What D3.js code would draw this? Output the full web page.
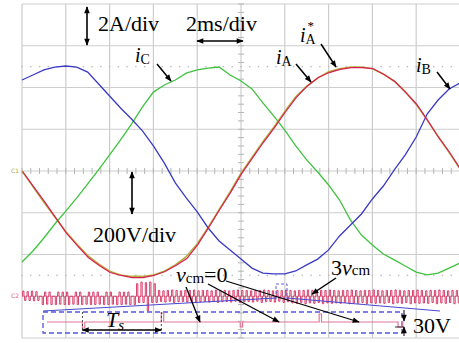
<!DOCTYPE html>
<html><head><meta charset="utf-8">
<script src="https://cdn.jsdelivr.net/npm/d3@7/dist/d3.min.js"></script>
<style>html,body{margin:0;padding:0;background:#fff;overflow:hidden}svg{display:block}</style>
</head><body><svg id="c" width="459" height="343"></svg>
<script>
// ---- data (time in ms, currents in A) ----
const timeMs = [0,0.5,1,1.5,2,2.5,3,3.5,4,4.5,5,5.5,6,6.5,7,7.5,8,8.5,9,9.5,10,10.5,11,11.5,12,12.5,13,13.5,14,14.5,15,15.5,16,16.5,17,17.5,18,18.5,19,19.5,20];
const iA    = [0,-0.72,-1.44,-2.2,-2.95,-3.55,-4.12,-4.5,-4.84,-4.98,-5.08,-5.08,-4.98,-4.79,-4.5,-4.17,-3.5,-2.68,-1.82,-1.0,-0.1,0.65,1.4,2.1,2.85,3.55,4.1,4.5,4.74,4.89,4.98,4.98,4.93,4.65,4.31,3.78,3.21,2.44,1.63,0.91,0.1];
const iAref = [0,-0.75,-1.5,-2.2,-2.9,-3.5,-4.05,-4.45,-4.8,-4.98,-5.05,-5.05,-4.98,-4.8,-4.5,-4.1,-3.5,-2.7,-1.85,-1.0,-0.1,0.65,1.4,2.1,2.85,3.55,4.05,4.45,4.75,4.9,4.98,4.98,4.9,4.65,4.3,3.8,3.2,2.45,1.65,0.9,0.1];
const iB    = [4.36,4.6,4.84,4.98,5.03,4.98,4.74,4.17,3.59,3.02,2.49,1.92,1.2,0.38,-0.57,-1.29,-1.96,-2.73,-3.35,-3.78,-4.22,-4.65,-4.89,-4.93,-4.93,-4.79,-4.5,-4.22,-3.78,-3.11,-2.59,-2.06,-1.34,-0.72,0.05,0.77,1.63,2.73,3.4,3.93,4.22];
const iC    = [-4.36,-3.83,-3.21,-2.54,-1.92,-1.29,-0.62,0.07,0.77,1.49,2.25,3.07,3.78,4.12,4.36,4.69,4.84,4.93,4.98,4.6,4.31,3.93,3.26,2.63,1.96,1.2,0.53,-0.05,-0.67,-1.39,-2.35,-3.07,-3.54,-3.98,-4.26,-4.55,-4.84,-4.98,-4.89,-4.65,-4.41];
// 3*vcm pulse train: one up pulse and one down pulse per 0.2 ms slot (volts)
const cmSlotMs = 0.2;
const cmUp = [25,22,25,22, 0,20,20,0,20,20,20,0,20,20,0,20,20,20,0,20,20,0,20,20,20,0, 60,68,65,68,60,
  28,26,28,30,28,26,28,28,30,26, 28,28,26,30,28,28,26,28,30,28, 28,26,28,28,30,28,26,28,28,30,
  28,26,28,28,30,28,26,28,28,30, 28,26,28,28,30,28,26,28,28,30, 28,26,28,28,30,28,26,28,28,30, 28,26,28,28,30,28,26,28,28];
const cmDn = [20,20,22,20, 40,38,40,40,38,40,40,38,40,40,38,40,40,38,40,40,38,40,40,38,40,40, 30,30,70,30,30,
  25,28,24,30,26,25,28,24,30,26, 25,28,24,30,26,25,28,24,30,26, 25,28,24,30,26,25,28,24,30,26,
  32,34,30,36,32,34,30,36,32,34, 32,34,30,36,32,34,30,36,32,34, 32,34,30,36,32,34,30,36,32,34, 32,34,30,36,32,34,30,36,32];
// zoomed inset (time in units of Ts, volts)
const insetBlipTs = [0.5,1.5,2.5,3.5,4.5];
const insetBlipV  = [-30,45,-25,40,-25];
const gridTimeTicks = [0,2,4,6,8,10,12,14,16,18,20];
const gridCurrentTicks = [-8,-6,-4,-2,0,2,4,6,8];
const peakRef = 5;

// ---- scales ----
const svg = d3.select('#c');
const x = d3.scaleLinear().domain([0,20]).range([22,460]);
const y = d3.scaleLinear().domain([-8,8]).range([338,4]);
const yV = d3.scaleLinear().domain([-800,800]).range([338,4]); // 200V/div
const cmOffset = -600;
const serif = "'Liberation Serif','Times New Roman',serif";

// ---- grid ----
const g = svg.append('g');
g.selectAll('line.v').data(gridTimeTicks).join('line')
  .attr('x1',d=>x(d)).attr('x2',d=>x(d)).attr('y1',y(8)).attr('y2',y(-8))
  .attr('stroke','#cdcdcd').attr('stroke-width',1.2);
g.selectAll('line.h').data(gridCurrentTicks).join('line')
  .attr('x1',x(0)).attr('x2',x(20)).attr('y1',d=>y(d)).attr('y2',d=>y(d))
  .attr('stroke','#cdcdcd').attr('stroke-width',1.2);
const minorT = d3.range(0,20.001,0.4);
const minorA = d3.range(-8,8.001,0.4);
g.selectAll('line.mt').data(minorT).join('line')
  .attr('x1',d=>x(d)).attr('x2',d=>x(d)).attr('y1',y(0)-3).attr('y2',y(0)+3)
  .attr('stroke','#b5b5b5').attr('stroke-width',1);
g.selectAll('line.ma').data(minorA).join('line')
  .attr('x1',x(10)-3).attr('x2',x(10)+3).attr('y1',d=>y(d)).attr('y2',d=>y(d))
  .attr('stroke','#b5b5b5').attr('stroke-width',1);
[peakRef,-peakRef].forEach(lv=>{
  g.selectAll(null).data(minorT).join('rect')
    .attr('x',d=>x(d)-0.7).attr('y',y(lv)-0.7).attr('width',1.4).attr('height',1.4).attr('fill','#bbbbbb');
});

// ---- pwm 3vcm trace ----
const base = yV(cmOffset);
let p = `M${x(0)},${base}`;
cmUp.forEach((u,k)=>{
  const t0 = k*cmSlotMs;
  const xa = x(t0+0.03), xb = xa+1.3, xc = x(t0+0.12), xd = xc+1.3;
  const yu = yV(cmOffset+u), yd = yV(cmOffset-cmDn[k]);
  if(u>0) p += `L${xa},${base}L${xa},${yu}L${xb},${yu}L${xb},${base}`;
  p += `L${xc},${base}L${xc},${yd}L${xd},${yd}L${xd},${base}`;
});
p += `L${x(20)},${base}`;
svg.append('path').attr('d',p).attr('fill','none').attr('stroke','#d42a5c').attr('stroke-width',0.9);

// ---- current traces ----
const line = arr => d3.line().x((d,i)=>x(timeMs[i])).y(d=>y(d))(arr);
svg.append('path').attr('d',line(iAref)).attr('fill','none').attr('stroke','#b4b040').attr('stroke-width',1.6);
svg.append('path').attr('d',line(iC)).attr('fill','none').attr('stroke','#3fc23f').attr('stroke-width',1.3);
svg.append('path').attr('d',line(iB)).attr('fill','none').attr('stroke','#3a3ac4').attr('stroke-width',1.3);
svg.append('path').attr('d',line(iA)).attr('fill','none').attr('stroke','#d82050').attr('stroke-width',1.2)
  .attr('transform','translate(0.6,0.5)');

// channel markers
svg.append('text').attr('x',11).attr('y',y(0)+2).text('C1').attr('font-family','DejaVu Sans').attr('font-size',6).attr('fill','#b8a830');
svg.append('text').attr('x',11).attr('y',base+2).text('C2').attr('font-family','DejaVu Sans').attr('font-size',6).attr('fill','#e06080');

// ---- inset ----
const ix = d3.scaleLinear().domain([0,4.55]).range([43,402]);
const box = {x0:43,x1:402,y0:312,y1:333,mid:322};
const iv = v => box.mid - v*0.2;
svg.append('rect').attr('x',box.x0).attr('y',box.y0).attr('width',box.x1-box.x0).attr('height',box.y1-box.y0)
  .attr('fill','none').attr('stroke','#5555d8').attr('stroke-width',1.3).attr('stroke-dasharray','5,3');
// small zoom box and connector lines
svg.append('rect').attr('x',276).attr('y',284).attr('width',11).attr('height',14).attr('fill','none')
  .attr('stroke','#6060e0').attr('stroke-width',1).attr('stroke-dasharray','3,2');
svg.append('line').attr('x1',box.x0).attr('y1',box.y0-1).attr('x2',276).attr('y2',298).attr('stroke','#4848d0').attr('stroke-width',1.2);
svg.append('line').attr('x1',287).attr('y1',298).attr('x2',440).attr('y2',box.y0-1).attr('stroke','#4848d0').attr('stroke-width',1.2);
let ip = `M${ix(0.05)},${box.mid}`;
insetBlipTs.forEach((u,i)=>{
  const w = i===insetBlipTs.length-1 ? 0.06 : 0.03;
  ip += `L${ix(u)},${box.mid}L${ix(u)},${iv(insetBlipV[i])}L${ix(u+w)},${iv(insetBlipV[i])}L${ix(u+w)},${box.mid}`;
});
ip += `L${ix(4.55)},${box.mid}`;
svg.append('path').attr('d',ip).attr('fill','none').attr('stroke','#e07898').attr('stroke-width',1.2);
[0.5,1.5].forEach(u=>svg.append('line').attr('x1',ix(u)).attr('x2',ix(u)).attr('y1',box.y0).attr('y2',box.y1)
  .attr('stroke','#333').attr('stroke-width',0.9).attr('stroke-dasharray','2,2'));

// ---- arrows ----
const defs = svg.append('defs');
defs.append('marker').attr('id','ah').attr('viewBox','0 0 10 10').attr('refX',9).attr('refY',5)
  .attr('markerWidth',8).attr('markerHeight',7).attr('orient','auto-start-reverse').attr('markerUnits','userSpaceOnUse')
  .append('path').attr('d','M0,1L10,5L0,9Z').attr('fill','#000');
function arrow(x1,y1,x2,y2,both,sw){
  const l = svg.append('line').attr('x1',x1).attr('y1',y1).attr('x2',x2).attr('y2',y2)
    .attr('stroke','#000').attr('stroke-width',sw||1.5).attr('marker-end','url(#ah)');
  if(both) l.attr('marker-start','url(#ah)');
}
arrow(87,7,87,45,true,1.6);
arrow(197,41,243,41,true,1.6);
arrow(132,172,132,214,true,1.6);
arrow(ix(0.5),330,ix(1.5),330,true,1.3);
arrow(157,64,171,81);
arrow(296,64,311,82);
arrow(321,44,336,67);
arrow(437,72,450,89);
arrow(336,278,312,294);
arrow(186,287,200,322,false,1.3);
arrow(208,284,279,322,false,1.3);
arrow(226,281,359,322,false,1.3);
arrow(404,310,404,321,false,1);
arrow(404,336,404,327,false,1);
svg.append('line').attr('x1',395).attr('x2',404).attr('y1',327).attr('y2',327).attr('stroke','#000').attr('stroke-width',0.8);

// ---- texts ----
function txt(xp,yp,s,size,opt){
  const t = svg.append('text').attr('x',xp).attr('y',yp).attr('font-family',serif).attr('font-size',size).attr('fill','#000');
  if(opt&&opt.italic) t.attr('font-style','italic');
  t.text(s); return t;
}
txt(98,31,'2A/div',22);
txt(186,31,'2ms/div',22);
txt(93,242,'200V/div',22);
txt(413,333,'30V',22);
function sublabel(xp,yp,main,sub,size,sup){
  const t = svg.append('text').attr('x',xp).attr('y',yp).attr('font-family',serif).attr('font-size',size);
  t.append('tspan').attr('font-style','italic').text(main);
  t.append('tspan').attr('font-size',size*0.7).attr('dy',2).text(sub);
  if(sup){ svg.append('text').attr('x',xp+7.5).attr('y',yp-12).attr('font-family',serif).attr('font-size',size*0.65).text(sup); }
  return t;
}
sublabel(135,62,'i','C',20);
sublabel(276,64,'i','A',20);
sublabel(300,42,'i','A',20,'*');
sublabel(416,72,'i','B',20);
const tv = svg.append('text').attr('x',176).attr('y',282).attr('font-family',serif).attr('font-size',22);
tv.append('tspan').attr('font-style','italic').text('v');
tv.append('tspan').attr('font-size',15).attr('dy',1).text('cm');
tv.append('tspan').attr('dy',-1).text('=0');
const t3 = svg.append('text').attr('x',331).attr('y',275).attr('font-family',serif).attr('font-size',22);
t3.append('tspan').text('3');
t3.append('tspan').attr('font-style','italic').text('v');
t3.append('tspan').attr('font-size',15).text('cm');
const ts = svg.append('text').attr('x',106).attr('y',327).attr('font-family',serif).attr('font-size',22);
ts.append('tspan').attr('font-style','italic').text('T');
ts.append('tspan').attr('font-style','italic').attr('font-size',15).attr('dy',3).text('s');
</script></body></html>
